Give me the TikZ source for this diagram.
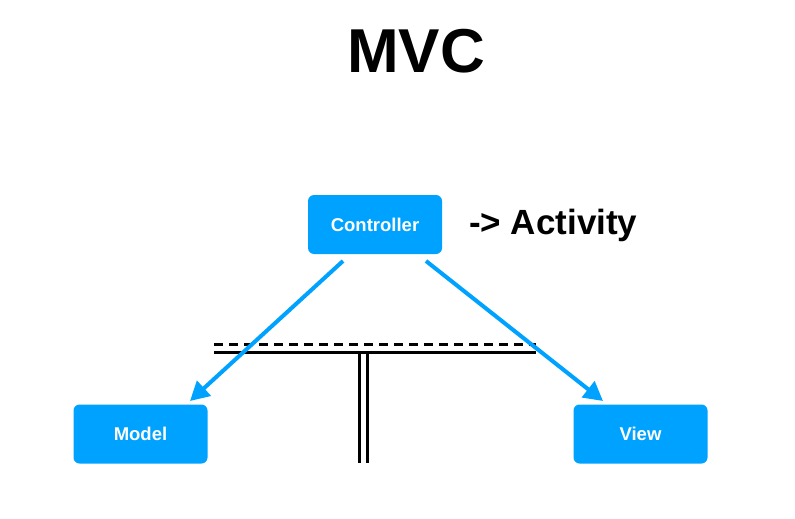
\documentclass[tikz,border=0pt]{standalone}
\usepackage{fontspec}
\setmainfont{Liberation Sans}
\usetikzlibrary{arrows.meta}
\definecolor{mvcblue}{RGB}{0,162,255}
\tikzset{
  box/.style={fill=mvcblue, draw=none, rounded corners=6pt, minimum width=134pt, minimum height=59pt, inner sep=0pt, text=white, font=\bfseries\fontsize{18.5}{22}\selectfont},
  link/.style={draw=mvcblue, line width=4pt, -{Triangle[length=19pt,width=20pt]}},
  bar/.style={draw=black, line width=3pt},
}
\begin{document}
\begin{tikzpicture}[x=1pt,y=-1pt]
\useasboundingbox (0,0) rectangle (795,519);
\node[font=\bfseries\fontsize{62}{70}\selectfont, anchor=base] (title) at (416,73) {MVC};
\node[box] (ctrl) at (375,224.5) {Controller};
\node[box] (model) at (140.5,434) {Model};
\node[box] (view) at (640.5,434) {View};
\node[font=\bfseries\fontsize{35}{40}\selectfont, anchor=base west, inner sep=0pt] (act) at (469,234) {-> Activity};
% T-shaped separator
\coordinate (dl) at (214,344);
\coordinate (dr) at (536,344);
\coordinate (sl) at (214,352);
\coordinate (sr) at (536,352);
\coordinate (v1t) at (359,352);
\coordinate (v1b) at (359,463);
\coordinate (v2t) at (367,352);
\coordinate (v2b) at (367,463);
\draw[bar, dash pattern=on 9pt off 6pt] (dl) -- (dr);
\draw[bar] (sl) -- (sr);
\draw[bar] (v1t) -- (v1b);
\draw[bar] (v2t) -- (v2b);
% arrows
\coordinate (c1) at (343,261);
\coordinate (c2) at (426,261);
\coordinate (m1) at (190,401);
\coordinate (w1) at (603,401);
\draw[link] (c1) -- (m1);
\draw[link] (c2) -- (w1);
\end{tikzpicture}
\end{document}
